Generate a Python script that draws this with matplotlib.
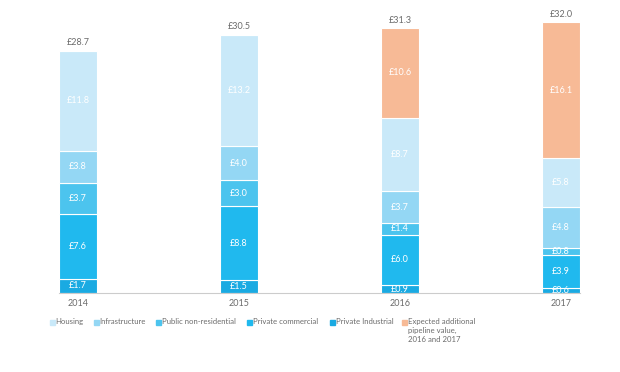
import matplotlib
matplotlib.use('Agg')
import matplotlib.pyplot as plt
from matplotlib.patches import Rectangle

plt.rcParams['font.family'] = ['Lato', 'DejaVu Sans']

years = ['2014', '2015', '2016', '2017']
series = ['Private Industrial', 'Private commercial', 'Public non-residential',
          'Infrastructure', 'Housing', 'Expected additional\npipeline value,\n2016 and 2017']
industrial = [1.7, 1.5, 0.9, 0.6]
commercial = [7.6, 8.8, 6.0, 3.9]
public = [3.7, 3.0, 1.4, 0.8]
infrastructure = [3.8, 4.0, 3.7, 4.8]
housing = [11.8, 13.2, 8.7, 5.8]
expected = [0.0, 0.0, 10.6, 16.1]
totals = [28.7, 30.5, 31.3, 32.0]

COLORS = ['#1AAAE2', '#20B9EE', '#4CC4EE', '#94D7F4', '#C9E9F9', '#F7BA96']
GREY = '#6b6b6b'

fig = plt.figure(figsize=(6.2, 3.72), dpi=100)
ax = fig.add_axes([59 / 620, 79 / 372, 521 / 620, 271 / 372])

width = 0.236
xs = list(range(len(years)))
bottoms = [0.0] * len(years)
for vals, col in zip([industrial, commercial, public, infrastructure, housing, expected], COLORS):
    ax.bar(xs, vals, width, bottom=bottoms, color=col, edgecolor='white', linewidth=0.8)
    for x, v, b in zip(xs, vals, bottoms):
        if v > 0:
            ax.text(x, b + v / 2, f'£{v:.1f}', ha='center', va='center',
                    color='white', fontsize=6.5)
    bottoms = [b + v for b, v in zip(bottoms, vals)]

for x, t, b in zip(xs, totals, bottoms):
    ax.text(x, b + 0.4, f'£{t:.1f}', ha='center', va='bottom', color=GREY,
            fontsize=6.5, clip_on=False)

ax.set_xlim(-width / 2, 3 + width / 2)
ax.set_ylim(0, 32)
ax.set_xticks(xs)
ax.set_xticklabels(years, fontsize=6.5, color=GREY)
ax.tick_params(axis='x', length=0, pad=4)
ax.set_yticks([])
for s in ['top', 'right', 'left']:
    ax.spines[s].set_visible(False)
ax.spines['bottom'].set_color('#cccccc')
ax.spines['bottom'].set_linewidth(0.8)

# legend, drawn by hand in figure pixels
legend_order = [4, 3, 2, 1, 0, 5]
legend_x = [50, 94, 156, 247, 330, 402]
y_px = 322
for i, lx in zip(legend_order, legend_x):
    fig.patches.append(Rectangle((lx / 620, (372 - y_px - 2.5) / 372), 5 / 620, 5 / 372,
                                 transform=fig.transFigure, color=COLORS[i]))
    fig.text((lx + 5.5) / 620, (372 - y_px + 4) / 372, series[i], ha='left', va='top',
             fontsize=5.6, color=GREY, linespacing=1.35)

fig.savefig('out.png', dpi=100)
